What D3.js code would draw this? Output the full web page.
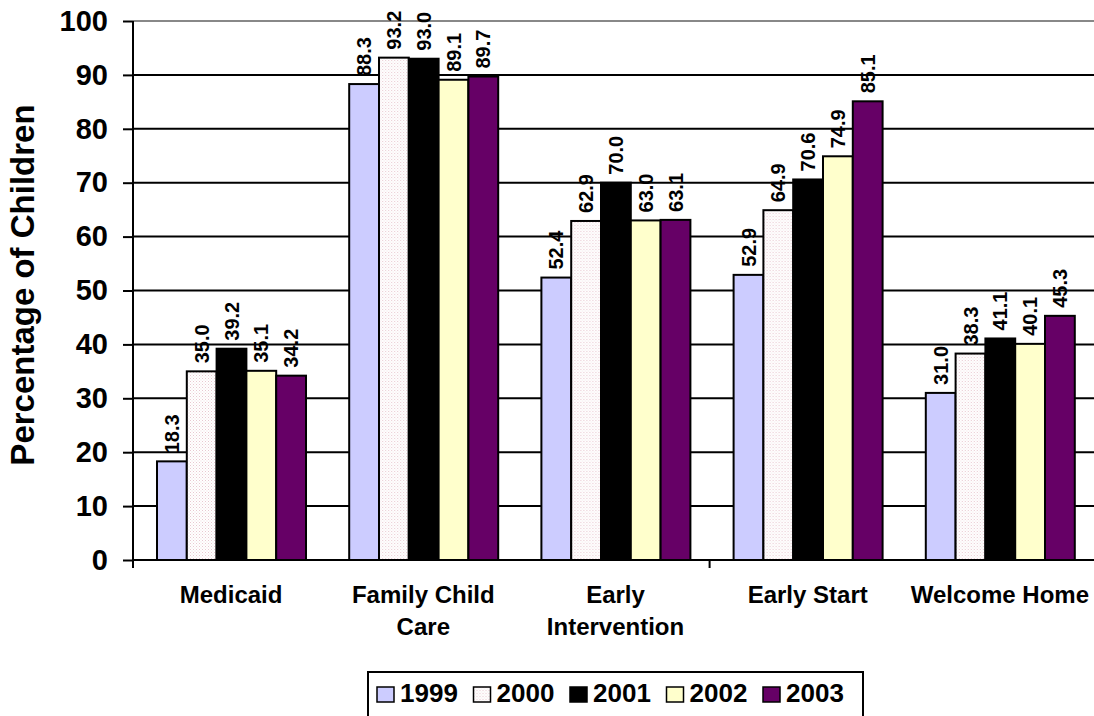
<!DOCTYPE html>
<html>
<head>
<meta charset="utf-8">
<script src="https://cdn.jsdelivr.net/npm/d3@7"></script>
<style>
  html, body { margin: 0; padding: 0; background: #fff; }
  svg { display: block; font-family: Arial, "Liberation Sans", sans-serif; }
</style>
</head>
<body>
<svg id="chart" width="1094" height="716"></svg>
<script>
// Programs and survey years
const categories = ["Medicaid", "Family Child Care", "Early Intervention", "Early Start", "Welcome Home"];
const categoryLines = [["Medicaid"], ["Family Child", "Care"], ["Early", "Intervention"], ["Early Start"], ["Welcome Home"]];
const years = ["1999", "2000", "2001", "2002", "2003"];

// Percentage of children, one array per year (in category order)
const v1999 = [18.3, 88.3, 52.4, 52.9, 31.0];
const v2000 = [35.0, 93.2, 62.9, 64.9, 38.3];
const v2001 = [39.2, 93.0, 70.0, 70.6, 41.1];
const v2002 = [35.1, 89.1, 63.0, 74.9, 40.1];
const v2003 = [34.2, 89.7, 63.1, 85.1, 45.3];
const seriesValues = [v1999, v2000, v2001, v2002, v2003];

const yTicks = [0, 10, 20, 30, 40, 50, 60, 70, 80, 90, 100];

const fills = ["#CCCCFF", "url(#dots)", "#000000", "#FFFFCC", "#660066"];

const svg = d3.select("#chart");

// dotted fill used by the 2000 series
const defs = svg.append("defs");
const pat = defs.append("pattern").attr("id", "dots")
  .attr("patternUnits", "userSpaceOnUse").attr("width", 3).attr("height", 3);
pat.append("rect").attr("width", 3).attr("height", 3).attr("fill", "#ffffff");
pat.append("rect").attr("x", 0).attr("y", 0).attr("width", 1).attr("height", 1).attr("fill", "#E8C8D0");
pat.append("rect").attr("x", 1.5).attr("y", 1.5).attr("width", 1).attr("height", 1).attr("fill", "#F0DCE2");

const plotLeft = 133, plotRight = 1094, plotTop = 21, plotBottom = 560;

const x0 = d3.scaleBand().domain(categories).range([plotLeft, plotRight]).padding(0);
const x1 = d3.scaleBand().domain(years).range([24, 173]).padding(0);
const y = d3.scaleLinear().domain([0, 100]).range([plotBottom, plotTop]);

// gridlines
svg.append("g").selectAll("line").data(yTicks.filter(t => t > 0)).join("line")
  .attr("x1", plotLeft).attr("x2", plotRight)
  .attr("y1", d => y(d)).attr("y2", d => y(d))
  .attr("stroke", d => d === 100 ? "#888" : "#000")
  .attr("stroke-width", 2);

// bars with rotated value labels
const groups = svg.append("g").selectAll("g").data(categories).join("g")
  .attr("transform", d => `translate(${x0(d)},0)`);

groups.each(function(cat, ci) {
  const g = d3.select(this);
  const data = years.map((yr, si) => ({ yr, si, v: seriesValues[si][ci] }));
  g.selectAll("rect").data(data).join("rect")
    .attr("x", d => x1(d.yr))
    .attr("y", d => y(d.v))
    .attr("width", x1.bandwidth())
    .attr("height", d => y(0) - y(d.v))
    .attr("fill", d => fills[d.si])
    .attr("stroke", "#000")
    .attr("stroke-width", 2);
  g.selectAll("text.val").data(data).join("text")
    .attr("class", "val")
    .attr("transform", d => `translate(${x1(d.yr) + x1.bandwidth() / 2 + 7},${y(d.v) - 8}) rotate(-90)`)
    .attr("font-size", 20).attr("font-weight", "bold")
    .attr("fill", "#000")
    .text(d => d.v.toFixed(1));
});

// y axis
const yAxis = d3.axisLeft(y).tickValues(yTicks).tickSize(10).tickPadding(15).tickFormat(d3.format("d"));
const ya = svg.append("g").attr("transform", `translate(${plotLeft},0)`).call(yAxis);
ya.select(".domain").remove();
ya.append("line").attr("x1", 0).attr("x2", 0).attr("y1", plotTop).attr("y2", plotBottom + 8)
  .attr("stroke", "#000").attr("stroke-width", 2);
ya.selectAll(".tick line").attr("stroke", "#000").attr("stroke-width", 2);
ya.selectAll(".tick text").attr("font-size", 29).attr("font-weight", "bold")
  .attr("font-family", "Arial, 'Liberation Sans', sans-serif").attr("fill", "#000");

// x axis baseline and category divider tick
svg.append("line").attr("x1", plotLeft).attr("x2", plotRight).attr("y1", plotBottom).attr("y2", plotBottom)
  .attr("stroke", "#000").attr("stroke-width", 2);
svg.append("line")
  .attr("x1", x0(categories[3])).attr("x2", x0(categories[3]))
  .attr("y1", plotBottom).attr("y2", plotBottom + 8)
  .attr("stroke", "#000").attr("stroke-width", 2);

// category labels
svg.append("g").selectAll("text").data(categories).join("text")
  .attr("x", d => x0(d) + x0.bandwidth() / 2 + 2)
  .attr("y", 603)
  .attr("text-anchor", "middle")
  .attr("font-size", 24).attr("font-weight", "bold").attr("fill", "#000")
  .each(function(d, i) {
    const t = d3.select(this);
    categoryLines[i].forEach((line, li) => {
      t.append("tspan").attr("x", x0(d) + x0.bandwidth() / 2 + 2)
        .attr("dy", li === 0 ? 0 : 32).text(line);
    });
  });

// y axis title
svg.append("text")
  .attr("transform", "translate(34,285) rotate(-90)")
  .attr("text-anchor", "middle")
  .attr("font-size", 33).attr("font-weight", "bold").attr("fill", "#000")
  .text("Percentage of Children");

// legend
const lg = svg.append("g");
lg.append("rect").attr("x", 368).attr("y", 672).attr("width", 495).attr("height", 60)
  .attr("fill", "#fff").attr("stroke", "#000").attr("stroke-width", 2);
const item = lg.selectAll("g").data(years).join("g")
  .attr("transform", (d, i) => `translate(${377 + i * 96.5},0)`);
item.append("rect").attr("x", 0).attr("y", 687).attr("width", 17).attr("height", 15)
  .attr("fill", (d, i) => fills[i]).attr("stroke", "#000").attr("stroke-width", 1.5);
item.append("text").attr("x", 23).attr("y", 702)
  .attr("font-size", 26).attr("font-weight", "bold").attr("fill", "#000")
  .text(d => d);
</script>
</body>
</html>
